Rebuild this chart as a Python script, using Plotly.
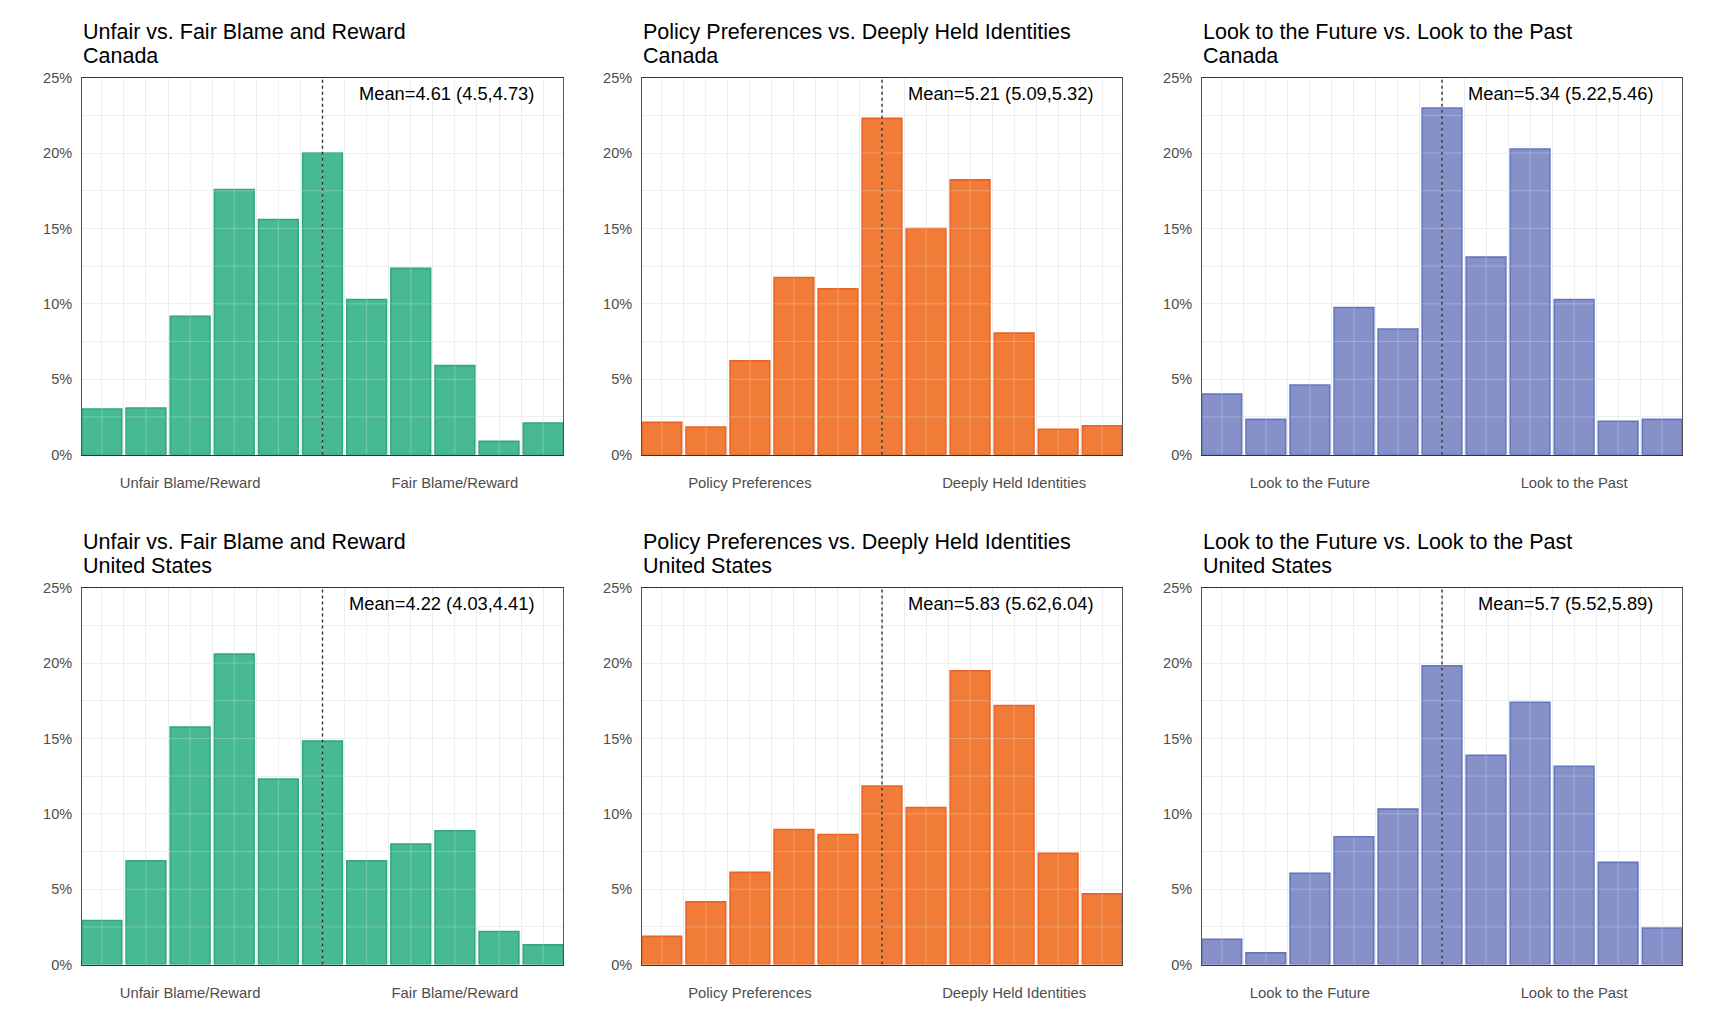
import plotly.graph_objects as go

# ---------------- data ----------------
categories = list(range(11))

canada_fair_blame = [3.03, 3.09, 9.17, 17.58, 15.59, 20.0, 10.29, 12.35, 5.9, 0.88, 2.1]
canada_identities = [2.14, 1.83, 6.23, 11.75, 11.0, 22.3, 15.0, 18.22, 8.06, 1.68, 1.92]
canada_future_past = [4.02, 2.34, 4.62, 9.76, 8.33, 22.99, 13.1, 20.27, 10.29, 2.21, 2.34]

us_fair_blame = [2.93, 6.89, 15.75, 20.59, 12.31, 14.82, 6.89, 8.0, 8.88, 2.2, 1.32]
us_identities = [1.87, 4.16, 6.12, 8.96, 8.63, 11.85, 10.42, 19.49, 17.18, 7.38, 4.69]
us_future_past = [1.68, 0.78, 6.06, 8.48, 10.31, 19.82, 13.88, 17.4, 13.15, 6.78, 2.43]

panel_titles = [
    "Unfair vs. Fair Blame and Reward",
    "Policy Preferences vs. Deeply Held Identities",
    "Look to the Future vs. Look to the Past",
]
countries = ["Canada", "United States"]
left_labels = ["Unfair Blame/Reward", "Policy Preferences", "Look to the Future"]
right_labels = ["Fair Blame/Reward", "Deeply Held Identities", "Look to the Past"]
label_positions = [2, 8]
mean_texts = [
    ["Mean=4.61 (4.5,4.73)", "Mean=5.21 (5.09,5.32)", "Mean=5.34 (5.22,5.46)"],
    ["Mean=4.22 (4.03,4.41)", "Mean=5.83 (5.62,6.04)", "Mean=5.7 (5.52,5.89)"],
]
midpoint = 5
y_ticks = [0, 5, 10, 15, 20, 25]
y_tick_labels = [f"{v}%" for v in y_ticks]

series = [
    [canada_fair_blame, canada_identities, canada_future_past],
    [us_fair_blame, us_identities, us_future_past],
]

# ---------------- style ----------------
OFF = 8                      # default page body margin
W, H = 1718 - 2 * OFF, 1030 - 2 * OFF
FONT = "Liberation Sans, Arial, Helvetica, sans-serif"
fill_colors = ["#47B993", "#F07C37", "#8591C8"]
line_colors = ["#30A87B", "#EA6226", "#6674BD"]
grid_color = "#E7ECEC"
overlay_color = "rgba(255,255,255,0.25)"
tick_color = "#4D4D4D"

# target pixel boxes (screenshot coordinates of the reference)
x_dom_px = [(82, 563), (642, 1122), (1202, 1682)]
y_dom_px = [(77, 454), (587, 964)]

Y_SCALE, Y_SHIFT = 1.016, 15.6   # vertical calibration of the page capture


def fx(px):
    return (px - OFF) / W


def fy(py):
    return 1 - (py * Y_SCALE - Y_SHIFT) / H


fig = go.Figure()
layout = dict(
    width=W, height=H,
    margin=dict(l=0, r=0, t=0, b=0),
    paper_bgcolor="white", plot_bgcolor="white",
    showlegend=False,
    font=dict(family=FONT),
    bargap=0.1,
)
annotations = []
shapes = []

for r in range(2):
    for c in range(3):
        idx = r * 3 + c + 1
        sfx = "" if idx == 1 else str(idx)
        xname, yname = "x" + sfx, "y" + sfx
        fig.add_trace(go.Bar(
            x=categories, y=series[r][c], width=0.9,
            marker=dict(color=fill_colors[c], line=dict(color=line_colors[c], width=1.6)),
            xaxis=xname, yaxis=yname, hoverinfo="x+y",
        ))
        x0p, x1p = x_dom_px[c]
        y0p, y1p = y_dom_px[r]
        layout["xaxis" + sfx] = dict(
            domain=[fx(x0p), fx(x1p)], anchor=yname,
            range=[-0.45, 10.45], tickvals=label_positions,
            ticktext=[left_labels[c], right_labels[c]],
            tickfont=dict(size=14.8, color=tick_color, family=FONT),
            ticks="", ticklabelstandoff=15,
            showgrid=True, gridcolor=grid_color, gridwidth=1,
            minor=dict(dtick=0.5, tick0=0, showgrid=True, gridcolor=grid_color, gridwidth=1),
            showline=True, linecolor="#333333", linewidth=1, mirror=True,
            zeroline=False, fixedrange=True,
        )
        layout["yaxis" + sfx] = dict(
            domain=[fy(y1p), fy(y0p)], anchor=xname,
            range=[0, 25], tickmode="array", tickvals=y_ticks, ticktext=y_tick_labels,
            tickfont=dict(size=14.5, color=tick_color, family=FONT),
            ticks="", ticklabelstandoff=6,
            showgrid=True, gridcolor=grid_color, gridwidth=1,
            minor=dict(dtick=2.5, tick0=0, showgrid=True, gridcolor=grid_color, gridwidth=1),
            showline=True, linecolor="#555555", linewidth=1, mirror=True,
            zeroline=False, fixedrange=True,
        )
        # light grid overlay visible on top of bars
        for k in range(21):
            xv = k * 0.5
            shapes.append(dict(type="line", xref=xname, yref=yname, x0=xv, x1=xv, y0=0, y1=25,
                               line=dict(color=overlay_color, width=1), layer="above"))
        for j in range(1, 10):
            yv = j * 2.5
            shapes.append(dict(type="line", xref=xname, yref=yname, x0=-0.45, x1=10.45, y0=yv, y1=yv,
                               line=dict(color=overlay_color, width=1), layer="above"))
        # dotted midpoint line
        shapes.append(dict(type="line", xref=xname, yref=yname, x0=midpoint, x1=midpoint, y0=0, y1=25,
                           line=dict(color="#333333", width=1.4, dash="dot"), layer="above"))
        # titles
        annotations.append(dict(text=panel_titles[c], xref="paper", yref="paper",
                                x=fx(x0p - 1), y=fy(y0p - 46), xanchor="left", yanchor="middle",
                                showarrow=False, font=dict(size=21.5, color="#000000", family=FONT)))
        annotations.append(dict(text=countries[r], xref="paper", yref="paper",
                                x=fx(x0p - 1), y=fy(y0p - 22), xanchor="left", yanchor="middle",
                                showarrow=False, font=dict(size=21.5, color="#000000", family=FONT)))
        # mean annotation
        annotations.append(dict(text=mean_texts[r][c], xref=xname + " domain", yref=yname + " domain",
                                x=(x1p - 27 - x0p) / (x1p - x0p), y=1 - 16 / (y1p - y0p),
                                xanchor="right", yanchor="middle", showarrow=False,
                                font=dict(size=18.3, color="#000000", family=FONT)))

layout["annotations"] = annotations
layout["shapes"] = shapes
fig.update_layout(**layout)
fig.write_html("out.html")
